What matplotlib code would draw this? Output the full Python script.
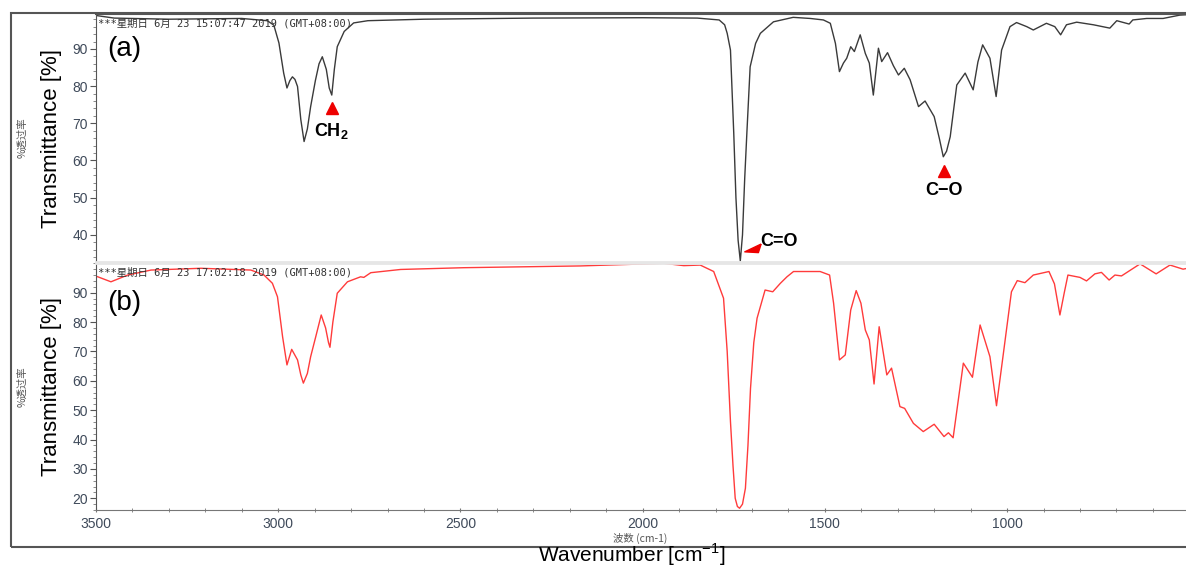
import matplotlib
matplotlib.use("Agg")
import matplotlib.pyplot as plt
from matplotlib.patches import Rectangle
from matplotlib.ticker import MultipleLocator

plt.rcParams["font.family"] = ["Liberation Sans", "DejaVu Sans"]

# ── spectrum (a): wavenumber (cm-1) / transmittance (%) ──
wn_a = [3500, 3450, 3300, 3100, 3030, 3012, 2998, 2985, 2976, 2968, 2961, 2954,
        2947, 2938, 2929, 2920, 2911, 2898, 2888, 2879, 2868, 2860, 2853, 2846,
        2838, 2819, 2793, 2754, 2600, 2300, 2000, 1850, 1790, 1775, 1768, 1759,
        1750, 1744, 1738, 1732, 1726, 1720, 1714, 1705, 1690, 1677, 1641, 1587,
        1540, 1504, 1485, 1471, 1460, 1449, 1440, 1429, 1419, 1403, 1389, 1378,
        1367, 1353, 1344, 1328, 1312, 1298, 1282, 1266, 1243, 1225, 1200, 1186,
        1175, 1166, 1156, 1138, 1115, 1093, 1080, 1067, 1047, 1030, 1015, 992,
        974, 946, 928, 892, 869, 853, 837, 809, 763, 718, 699, 665, 655, 617,
        572, 526, 509]
tr_a = [99.0, 98.3, 98.0, 98.2, 97.6, 96.4, 91.6, 83.5, 79.5, 81.5, 82.5, 81.8,
        79.9, 71.0, 65.1, 68.5, 74.5, 81.5, 86.0, 87.9, 84.5, 79.5, 77.6, 84.5,
        90.6, 94.7, 97.0, 97.6, 98.0, 98.3, 98.4, 98.3, 97.8, 96.5, 94.2, 89.7,
        67.4, 50.0, 38.5, 33.0, 40.0, 55.0, 67.4, 85.2, 91.5, 94.2, 97.3, 98.5,
        98.2, 97.8, 96.9, 91.5, 83.9, 86.2, 87.5, 90.6, 89.3, 93.8, 88.8, 86.2,
        77.6, 90.2, 86.6, 89.0, 85.5, 83.0, 84.8, 81.7, 74.5, 76.0, 71.8, 66.0,
        61.0, 62.5, 66.4, 80.3, 83.5, 79.0, 86.5, 91.1, 87.5, 77.2, 89.7, 96.0,
        97.1, 96.0, 95.1, 96.9, 96.0, 93.8, 96.5, 97.2, 96.5, 95.6, 97.6, 96.7,
        97.8, 98.2, 98.2, 99.1, 99.2]

# ── spectrum (b) ──
wn_b = [3500, 3495, 3459, 3413, 3349, 3212, 3075, 3039, 3016, 3002, 2988, 2976,
        2963, 2947, 2938, 2931, 2920, 2911, 2897, 2882, 2870, 2862, 2858, 2850,
        2838, 2810, 2774, 2765, 2746, 2664, 2491, 2171, 1942, 1887, 1842, 1805,
        1778, 1768, 1759, 1752, 1746, 1740, 1734, 1726, 1718, 1711, 1704, 1695,
        1686, 1664, 1643, 1622, 1604, 1586, 1513, 1487, 1476, 1460, 1444, 1429,
        1414, 1401, 1389, 1378, 1365, 1351, 1330, 1317, 1294, 1281, 1257, 1230,
        1200, 1173, 1161, 1148, 1120, 1095, 1074, 1047, 1029, 1010, 988, 972,
        951, 928, 885, 870, 855, 843, 833, 800, 782, 759, 741, 720, 704, 686,
        635, 591, 553, 517, 509]
tr_b = [95.6, 95.4, 93.7, 96.0, 97.7, 98.3, 97.7, 96.0, 93.2, 88.6, 75.0, 65.4,
        70.7, 67.1, 62.0, 59.2, 62.5, 68.2, 75.0, 82.4, 78.0, 73.0, 71.4, 80.0,
        89.8, 93.7, 95.4, 95.2, 96.8, 97.9, 98.5, 99.1, 100.0, 99.2, 99.4, 97.2,
        88.1, 70.0, 46.1, 31.0, 20.0, 17.2, 16.6, 18.0, 23.4, 38.0, 57.4, 73.0,
        81.3, 90.9, 90.3, 93.2, 95.4, 97.2, 97.2, 96.0, 86.4, 67.1, 68.8, 84.1,
        90.7, 86.4, 77.3, 73.9, 58.9, 78.4, 62.0, 64.3, 51.2, 50.6, 45.5, 42.7,
        45.2, 41.0, 42.3, 40.6, 66.0, 61.2, 79.0, 68.2, 51.5, 69.4, 90.3, 94.1,
        93.4, 96.0, 97.2, 93.0, 82.4, 90.0, 96.0, 95.2, 94.0, 96.4, 96.9, 94.3,
        96.0, 95.7, 99.8, 96.4, 99.4, 98.0, 98.2]

x_ticks = [3500, 3000, 2500, 2000, 1500, 1000]
stamp_a = "***星期日 6月 23 15:07:47 2019 (GMT+08:00)"
stamp_b = "***星期日 6月 23 17:02:18 2019 (GMT+08:00)"

W, H = 1186, 570
fig = plt.figure(figsize=(W / 100, H / 100), dpi=100)

def box(x0, y0, x1, y1):
    # pixel box (top-left origin) -> figure fraction rect
    return [x0 / W, 1 - y1 / H, (x1 - x0) / W, (y1 - y0) / H]

# outer instrument frame
fig.patches.append(Rectangle((11 / W, 1 - 547 / H), (W - 11) / W + 0.01, (547 - 13) / H,
                             transform=fig.transFigure, fill=False, ec="#555555", lw=1.5))

ax_a = fig.add_axes(box(96, 14, W, 262))
ax_b = fig.add_axes(box(96, 263, W, 510))

tick_col = "#3f4a5a"
mono = ["DejaVu Sans Mono", "Noto Sans CJK SC"]
cjk = ["Noto Sans CJK SC", "DejaVu Sans"]

for ax in (ax_a, ax_b):
    ax.set_xlim(3500, 509)
    ax.set_xticks(x_ticks)
    ax.xaxis.set_minor_locator(MultipleLocator(100))
    ax.yaxis.set_major_locator(MultipleLocator(10))
    ax.yaxis.set_minor_locator(MultipleLocator(2))
    ax.tick_params(axis="y", which="major", direction="out", length=4, color="#555555",
                   labelsize=10, labelcolor=tick_col, pad=2)
    ax.tick_params(axis="y", which="minor", direction="out", length=2, color="#777777")
    ax.tick_params(axis="x", which="both", direction="inout", length=3, color="#777777",
                   labelsize=10, labelcolor=tick_col)
    ax.spines["right"].set_visible(False)
    ax.spines["left"].set_color("#555555")

ax_a.plot(wn_a, tr_a, color="#3a3a3a", lw=1.0)
ax_a.set_ylim(32.7, 99.4)
ax_a.set_yticks([40, 50, 60, 70, 80, 90])
ax_a.tick_params(axis="x", which="both", length=0, labelbottom=False)
ax_a.spines["top"].set_color("#555555")
ax_a.spines["top"].set_linewidth(1.5)
ax_a.spines["bottom"].set_color("#e6e6e6")
ax_a.spines["bottom"].set_linewidth(2)

ax_b.plot(wn_b, tr_b, color="#ff3b3b", lw=1.0)
ax_b.set_ylim(16.0, 100.1)
ax_b.set_yticks([20, 30, 40, 50, 60, 70, 80, 90])
ax_b.spines["top"].set_color("#e6e6e6")
ax_b.spines["top"].set_linewidth(2)
ax_b.spines["bottom"].set_color("#777777")

# time stamps and panel letters
ax_a.text(0.002, 0.985, stamp_a, transform=ax_a.transAxes, ha="left", va="top",
          fontsize=7.5, color="#333333", family=mono)
ax_b.text(0.002, 0.985, stamp_b, transform=ax_b.transAxes, ha="left", va="top",
          fontsize=7.5, color="#333333", family=mono)
ax_a.text(0.01, 0.86, "(a)", transform=ax_a.transAxes, ha="left", va="center", fontsize=20)
ax_b.text(0.01, 0.84, "(b)", transform=ax_b.transAxes, ha="left", va="center", fontsize=20)

# axis titles
for ax, yc in ((ax_a, 138), (ax_b, 387)):
    fig.text(22 / W, 1 - yc / H, "%透过率", rotation=90, ha="center", va="center",
             fontsize=7.5, color="#555555", family=cjk)
    fig.text(52 / W, 1 - yc / H, "Transmittance [%]", rotation=90, ha="center",
             va="center", fontsize=16)
fig.text(640 / W, 1 - 538 / H, "波数 (cm-1)", ha="center", va="center", fontsize=7.5,
         color="#555555", family=cjk)
fig.text(632 / W, 1 - 568 / H, "Wavenumber [cm$^{\\mathregular{-1}}$]", ha="center",
         va="bottom", fontsize=15)

# peak markers
ax_a.plot([2853], [74.0], marker="^", color="#ee0000", ms=9, ls="none")
ax_a.text(2853, 68.0, "CH$_\\mathregular{2}$", ha="center", va="center", fontsize=13,
          fontweight="bold")
ax_a.plot([1173], [57.2], marker="^", color="#ee0000", ms=9, ls="none")
ax_a.text(1173, 52.0, "C−O", ha="center", va="center", fontsize=13, fontweight="bold")
wedge = [(17, 14), (-25, -6), (10, -8), (17, 14)]
ax_a.plot([1694], [36.3], marker=wedge, color="#ee0000", ms=14, ls="none")
ax_a.text(1677, 38.2, "C=O", ha="left", va="center", fontsize=13, fontweight="bold")

fig.savefig("out.png", dpi=100)
